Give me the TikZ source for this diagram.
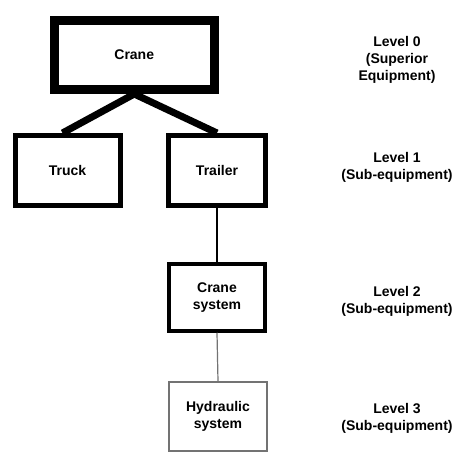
\documentclass[tikz,border=0pt]{standalone}
\usepackage{fontspec}
\setmainfont{Liberation Sans}
\begin{document}
\begin{tikzpicture}[x=1pt,y=-1pt,
  every node/.style={font=\bfseries\fontsize{14}{17}\selectfont, align=center},
  box/.style={draw, rectangle, inner sep=0pt},
  lvl/.style={inner sep=0pt}]
\useasboundingbox (0,0) rectangle (474,460);
\node[box, line width=9pt, minimum width=159.5pt, minimum height=69pt] (crane) at (134.25,55) {Crane};
\node[box, line width=5pt, minimum width=105pt, minimum height=70pt] (truck) at (67.5,170.5) {Truck};
\node[box, line width=5pt, minimum width=97pt, minimum height=70pt] (trailer) at (217,170.5) {Trailer};
\node[box, line width=3.5pt, minimum width=96pt, minimum height=67pt] (csys) at (217,297.5) {Crane\\system};
\node[box, draw=black!55, line width=1.2pt, minimum width=98pt, minimum height=69pt] (hyd) at (218,416.5) {Hydraulic\\system};
\draw[line width=7pt] (crane.south) -- ([xshift=-5pt]truck.north);
\draw[line width=7pt] (crane.south) -- (trailer.north);
\draw[line width=2pt] (trailer.south) -- (csys.north);
\draw[line width=1.2pt, black!55] (csys.south) -- (hyd.north);
\node[lvl] (l0) at (397,60) {Level 0\\(Superior\\Equipment)};
\node[lvl] (l1) at (397,167) {Level 1\\(Sub-equipment)};
\node[lvl] (l2) at (397,301) {Level 2\\(Sub-equipment)};
\node[lvl] (l3) at (397,418) {Level 3\\(Sub-equipment)};
\end{tikzpicture}
\end{document}
